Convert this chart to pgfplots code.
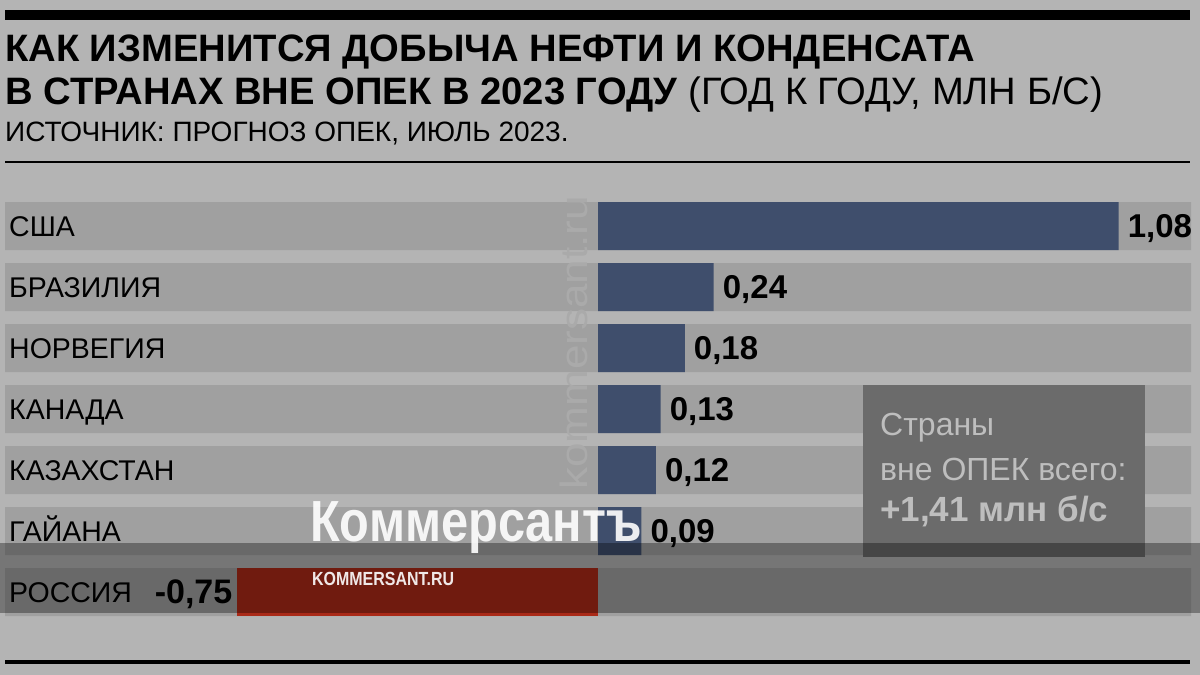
\documentclass[border=0pt]{standalone}
\usepackage{fontspec}
\setmainfont{Liberation Sans}
\newfontfamily\cond{Liberation Sans}[FakeStretch=0.84]
\newfontfamily\wide{Liberation Sans}[FakeStretch=1.16]
\usepackage{pgfplots}
\pgfplotsset{compat=1.18}

\definecolor{bg}{HTML}{B4B4B4}
\definecolor{band}{HTML}{A0A0A0}
\definecolor{barblue}{HTML}{3F4E6C}
\definecolor{barred}{HTML}{AA2A18}
\definecolor{boxc}{HTML}{6B6B6B}
\definecolor{boxtext}{HTML}{BEBEBE}
\definecolor{wm}{HTML}{AAAAAA}

\begin{document}
\begin{tikzpicture}
\begin{scope}[x=1bp,y=-1bp]
\fill[bg] (0,0) rectangle (1200,675);
\useasboundingbox (0,0) rectangle (1200,675);
\fill[black] (5,10) rectangle (1190,20);
\node[anchor=base west,inner sep=0pt,font=\bfseries\fontsize{38.2bp}{38.2bp}\selectfont] at (5,62)
  {КАК ИЗМЕНИТСЯ ДОБЫЧА НЕФТИ И КОНДЕНСАТА};
\node[anchor=base west,inner sep=0pt,font=\bfseries\fontsize{38.2bp}{38.2bp}\selectfont] at (5,105)
  {В СТРАНАХ ВНЕ ОПЕК В 2023 ГОДУ \mdseries(ГОД К ГОДУ, МЛН Б/С)};
\node[anchor=base west,inner sep=0pt,font=\fontsize{28bp}{28bp}\selectfont] at (5,142)
  {ИСТОЧНИК: ПРОГНОЗ ОПЕК, ИЮЛЬ 2023.};
\fill[black] (5,161) rectangle (1190,163);
\fill[black] (5,660) rectangle (1190,664);
\end{scope}

\begin{axis}[
  at={(5bp,-195.5bp)}, anchor=north west,
  scale only axis, width=1186bp, height=427bp,
  xmin=-1.2303, xmax=1.2303,
  ymin=-0.5, ymax=6.5, y dir=reverse,
  axis on top,
  axis line style={draw=none}, major tick length=0pt,
  xtick=\empty, ytick={0,...,6},
  yticklabels={США,БРАЗИЛИЯ,НОРВЕГИЯ,КАНАДА,КАЗАХСТАН,ГАЙАНА,РОССИЯ},
  yticklabel style={anchor=base west, inner sep=0pt, xshift=4bp, yshift=-10bp,
    font=\fontsize{28.5bp}{28.5bp}\selectfont},
  clip=false,
  every axis plot/.append style={xbar, bar width=48bp, bar shift=0pt, draw=none},
]
% background bands
\addplot[fill=band] coordinates {(1.2303,0)(1.2303,1)(1.2303,2)(1.2303,3)(1.2303,4)(1.2303,5)(1.2303,6)};
\addplot[fill=band] coordinates {(-1.2303,0)(-1.2303,1)(-1.2303,2)(-1.2303,3)(-1.2303,4)(-1.2303,5)(-1.2303,6)};
% values
\addplot[fill=barblue, nodes near coords, point meta=explicit symbolic,
  every node near coord/.append style={anchor=base west, text=black, inner sep=0pt,
    xshift=9bp, yshift=-11bp, font=\bfseries\fontsize{33bp}{33bp}\selectfont}]
  coordinates {(1.08,0)[1,08] (0.24,1)[0,24] (0.18,2)[0,18] (0.13,3)[0,13] (0.12,4)[0,12] (0.09,5)[0,09]};
\addplot[fill=barred, nodes near coords, point meta=explicit symbolic,
  every node near coord/.append style={anchor=base east, text=black, inner sep=0pt,
    xshift=-4bp, yshift=-11bp, font=\bfseries\fontsize{34bp}{34bp}\selectfont}]
  coordinates {(-0.75,6)[-0,75]};
\end{axis}

\begin{scope}[x=1bp,y=-1bp]
\node[rotate=90, text=wm, inner sep=0pt, font=\wide\fontsize{38bp}{38bp}\selectfont] at (574,343) {kommersant.ru};
\fill[boxc] (863,385) rectangle (1145,557);
\node[anchor=base west,inner sep=0pt,text=boxtext,font=\fontsize{32bp}{32bp}\selectfont] at (880,435) {Страны};
\node[anchor=base west,inner sep=0pt,text=boxtext,font=\fontsize{32bp}{32bp}\selectfont] at (880,480) {вне ОПЕК всего:};
\node[anchor=base west,inner sep=0pt,text=boxtext,font=\bfseries\fontsize{35bp}{35bp}\selectfont] at (880,521) {+1,41 млн б/с};
\fill[black, opacity=0.34] (0,543) rectangle (1200,613);
\node[anchor=base west,inner sep=0pt,text=white,opacity=0.9,font=\cond\bfseries\fontsize{58bp}{58bp}\selectfont] at (310,541) {Коммерсантъ};
\node[anchor=base west,inner sep=0pt,text=white,opacity=0.9,font=\cond\bfseries\fontsize{19bp}{19bp}\selectfont] at (312,585) {KOMMERSANT.RU};
\end{scope}
\end{tikzpicture}
\end{document}
